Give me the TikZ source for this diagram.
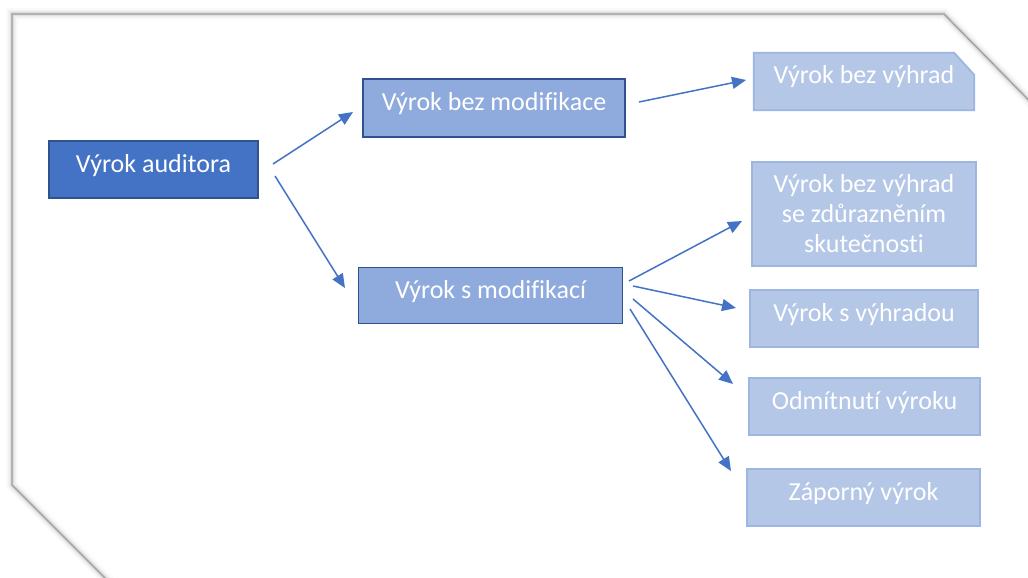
\documentclass[tikz,border=0pt]{standalone}
\usepackage{fontspec}
\setmainfont{Carlito}[Ligatures={NoCommon}]
\usetikzlibrary{arrows.meta,calc}
\definecolor{darkfill}{HTML}{4472C4}
\definecolor{darkline}{HTML}{2F528F}
\definecolor{midfill}{HTML}{8FAADC}
\definecolor{lightfill}{HTML}{B4C7E7}
\definecolor{lightline}{HTML}{9DB5E0}
\definecolor{arrowcol}{HTML}{4472C4}
\tikzset{
  boxbase/.style={text=white, align=center, font=\fontsize{26}{30}\selectfont, inner sep=0pt},
  oneline/.style={text height=16pt, text depth=11pt},
  darkbox/.style={boxbase, fill=darkfill, draw=darkline, line width=1.8pt},
  midbox/.style={boxbase, fill=midfill, draw=darkline, line width=1.8pt},
  lightbox/.style={boxbase, fill=lightfill, draw=lightline, line width=1.8pt},
  conn/.style={draw=arrowcol, line width=1.5pt, -{Triangle[length=14pt,width=12pt]}},
  edgeline/.style={draw=gray!75, line width=1.2pt, line join=miter}
}
\begin{document}
\begin{tikzpicture}[x=1pt,y=-1pt]
\useasboundingbox (0,0) rectangle (1028,578);
\fill[white] (0,0) rectangle (1028,578);
% frame with shadow
\foreach \w/\o in {12/0.04,8/0.06,5/0.09,3/0.15}{
  \draw[gray, line width=\w pt, opacity=\o, line join=miter]
    (1060,132) -- (944,14) -- (12,14) -- (12,485) -- (110,583);
}
\draw[edgeline] (1060,132) -- (944,14) -- (12,14) -- (12,485) -- (110,583);

% nodes
\node[darkbox, oneline, minimum width=209pt, minimum height=57pt] (aud) at (153.5,169.5) {Výrok auditora};
\node[midbox, oneline, minimum width=262pt, minimum height=58pt] (bezmod) at (494,108) {Výrok bez modifikace};
\node[midbox, oneline, minimum width=264pt, minimum height=56pt] (smod) at (490.5,295.5) {Výrok s modifikací};

\node[boxbase, minimum width=220pt, minimum height=57pt] (bvh) at (864,81.5) {};
\filldraw[fill=lightfill, draw=lightline, line width=1.8pt]
  (bvh.north west) -- ($(bvh.north east)+(-20,0)$) -- ($(bvh.north east)+(0,22)$)
  -- (bvh.south east) -- (bvh.south west) -- cycle;
\node[boxbase, oneline] (bvhtext) at (bvh.center) {Výrok bez výhrad};

\node[lightbox, minimum width=224pt, minimum height=104pt] (zdur) at (864,214) {Výrok bez výhrad\\se zdůrazněním\\skutečnosti};
\node[lightbox, oneline, minimum width=228pt, minimum height=57pt] (svh) at (864,318.5) {Výrok s výhradou};
\node[lightbox, oneline, minimum width=231pt, minimum height=57pt] (odm) at (864.5,406.5) {Odmítnutí výroku};
\node[lightbox, oneline, minimum width=233pt, minimum height=57pt] (zap) at (863.5,497.5) {Záporný výrok};

% connector end points
\coordinate (s1) at (273,164);  \coordinate (e1) at (353,112);
\coordinate (s2) at (275,176);  \coordinate (e2) at (345,288);
\coordinate (s3) at (639,102);  \coordinate (e3) at (746,80);
\coordinate (s4) at (629,281);  \coordinate (e4) at (742,221);
\coordinate (s5) at (633,286);  \coordinate (e5) at (736,308);
\coordinate (s6) at (633,299);  \coordinate (e6) at (733,384);
\coordinate (s7) at (630,309);  \coordinate (e7) at (731,471);

\draw[conn] (s1) -- (e1);
\draw[conn] (s2) -- (e2);
\draw[conn] (s3) -- (e3);
\draw[conn] (s4) -- (e4);
\draw[conn] (s5) -- (e5);
\draw[conn] (s6) -- (e6);
\draw[conn] (s7) -- (e7);
\end{tikzpicture}
\end{document}
